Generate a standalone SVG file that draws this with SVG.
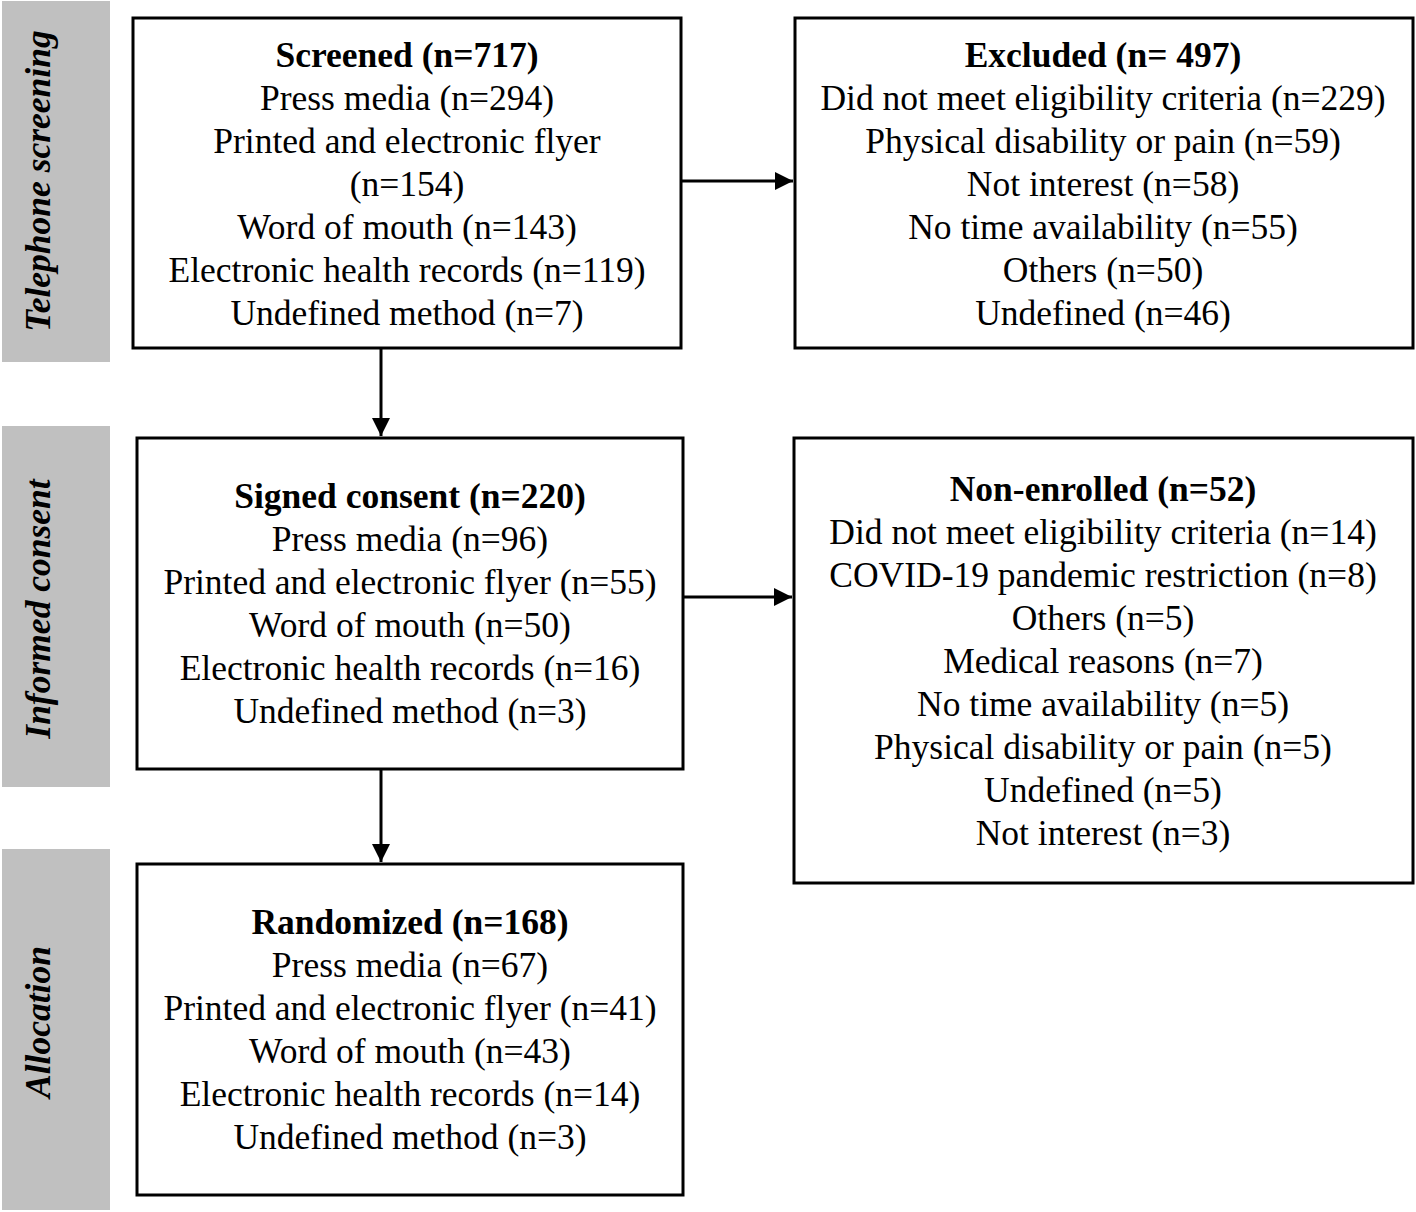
<svg xmlns="http://www.w3.org/2000/svg" width="1416" height="1212" viewBox="0 0 1416 1212">
<style>
.band{fill:#c0c0c0}
.box{fill:#fff;stroke:#000;stroke-width:3}
.t{font-family:"Liberation Serif","Times New Roman",serif;font-size:35.5px;fill:#000;text-anchor:middle}
.b{font-weight:bold}
.side{font-family:"Liberation Serif","Times New Roman",serif;font-size:35.5px;font-weight:bold;font-style:italic;fill:#000;text-anchor:middle}
.conn{stroke:#000;stroke-width:3;fill:none}
</style>
<defs>
<marker id="arr" viewBox="0 0 10 10" refX="10" refY="5" markerWidth="6" markerHeight="6" orient="auto" markerUnits="strokeWidth">
<path d="M0,0 L10,5 L0,10 Z" fill="#000"/>
</marker>
</defs>
<rect width="1416" height="1212" fill="#fff"/>
<g id="phase-telephone">
<rect class="band" x="2" y="1" width="108" height="361"/>
<text class="side" transform="translate(50,181) rotate(-90)">Telephone screening</text>
</g>
<g id="phase-consent">
<rect class="band" x="2" y="426" width="108" height="361"/>
<text class="side" transform="translate(50,609) rotate(-90)">Informed consent</text>
</g>
<g id="phase-allocation">
<rect class="band" x="2" y="849" width="108" height="361"/>
<text class="side" transform="translate(50,1022) rotate(-90)">Allocation</text>
</g>
<g id="screened">
<rect class="box" x="133" y="18" width="548" height="330"/>
<text class="t b" x="407" y="67">Screened (n=717)</text>
<text class="t" x="407" y="110">Press media (n=294)</text>
<text class="t" x="407" y="153">Printed and electronic flyer</text>
<text class="t" x="407" y="196">(n=154)</text>
<text class="t" x="407" y="239">Word of mouth (n=143)</text>
<text class="t" x="407" y="282">Electronic health records (n=119)</text>
<text class="t" x="407" y="325">Undefined method (n=7)</text>
</g>
<g id="excluded">
<rect class="box" x="795" y="18" width="618" height="330"/>
<text class="t b" x="1103" y="67">Excluded (n= 497)</text>
<text class="t" x="1103" y="110">Did not meet eligibility criteria (n=229)</text>
<text class="t" x="1103" y="153">Physical disability or pain (n=59)</text>
<text class="t" x="1103" y="196">Not interest (n=58)</text>
<text class="t" x="1103" y="239">No time availability (n=55)</text>
<text class="t" x="1103" y="282">Others (n=50)</text>
<text class="t" x="1103" y="325">Undefined (n=46)</text>
</g>
<g id="signed">
<rect class="box" x="137" y="438" width="546" height="331"/>
<text class="t b" x="410" y="508">Signed consent (n=220)</text>
<text class="t" x="410" y="551">Press media (n=96)</text>
<text class="t" x="410" y="594">Printed and electronic flyer (n=55)</text>
<text class="t" x="410" y="637">Word of mouth (n=50)</text>
<text class="t" x="410" y="680">Electronic health records (n=16)</text>
<text class="t" x="410" y="723">Undefined method (n=3)</text>
</g>
<g id="nonenrolled">
<rect class="box" x="794" y="438" width="619" height="445"/>
<text class="t b" x="1103" y="501">Non-enrolled (n=52)</text>
<text class="t" x="1103" y="544">Did not meet eligibility criteria (n=14)</text>
<text class="t" x="1103" y="587">COVID-19 pandemic restriction (n=8)</text>
<text class="t" x="1103" y="630">Others (n=5)</text>
<text class="t" x="1103" y="673">Medical reasons (n=7)</text>
<text class="t" x="1103" y="716">No time availability (n=5)</text>
<text class="t" x="1103" y="759">Physical disability or pain (n=5)</text>
<text class="t" x="1103" y="802">Undefined (n=5)</text>
<text class="t" x="1103" y="845">Not interest (n=3)</text>
</g>
<g id="randomized">
<rect class="box" x="137" y="864" width="546" height="331"/>
<text class="t b" x="410" y="934">Randomized (n=168)</text>
<text class="t" x="410" y="977">Press media (n=67)</text>
<text class="t" x="410" y="1020">Printed and electronic flyer (n=41)</text>
<text class="t" x="410" y="1063">Word of mouth (n=43)</text>
<text class="t" x="410" y="1106">Electronic health records (n=14)</text>
<text class="t" x="410" y="1149">Undefined method (n=3)</text>
</g>
<g id="connectors">
<line class="conn" x1="682" y1="181" x2="793" y2="181" marker-end="url(#arr)"/>
<line class="conn" x1="684" y1="597" x2="792" y2="597" marker-end="url(#arr)"/>
<line class="conn" x1="381" y1="349" x2="381" y2="436" marker-end="url(#arr)"/>
<line class="conn" x1="381" y1="770" x2="381" y2="862" marker-end="url(#arr)"/>
</g>
</svg>
